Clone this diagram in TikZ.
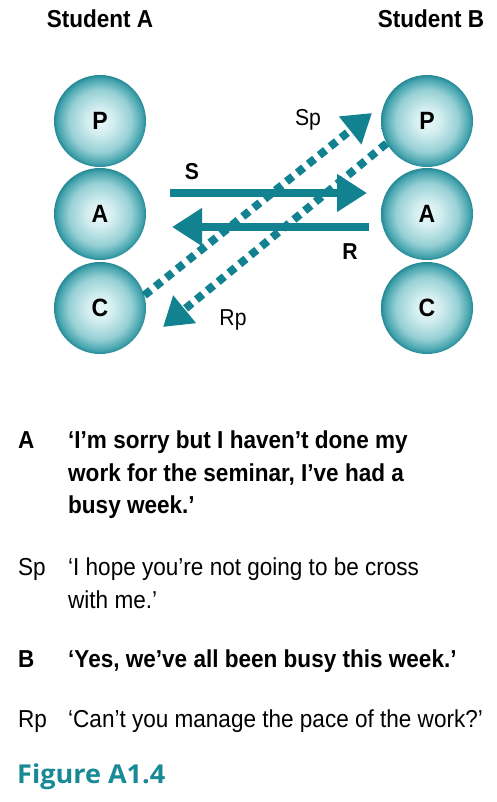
\documentclass[tikz,border=0pt]{standalone}
\usepackage{fontspec}
\setmainfont{Liberation Sans}[FakeStretch=0.92]
\newfontfamily\figfont{Open Sans}[FakeStretch=1.04]
\usetikzlibrary{arrows.meta,calc}
\definecolor{teal1}{RGB}{18,130,144}
\definecolor{figcol}{RGB}{24,138,150}
\definecolor{b0}{RGB}{236,249,249}
\definecolor{b1}{RGB}{212,238,240}
\definecolor{b2}{RGB}{150,208,213}
\definecolor{b3}{RGB}{70,164,174}
\definecolor{b4}{RGB}{36,138,150}
\pgfdeclareradialshading{ballteal}{\pgfpoint{0bp}{0bp}}{color(0bp)=(b0); color(7bp)=(b1); color(17bp)=(b2); color(23bp)=(b3); color(25bp)=(b4); color(50bp)=(b4)}
\begin{document}
\begin{tikzpicture}[x=1pt,y=1pt,
  ball/.style={circle, minimum size=92pt, inner sep=0pt, shading=ballteal, font=\fontsize{25}{28}\selectfont\bfseries},
  head/.style={font=\fontsize{24.5}{30}\selectfont\bfseries},
  solidarr/.style={draw=teal1, line width=8pt, -{Triangle[length=30pt,width=36pt]}},
  dotarr/.style={draw=teal1, line width=8pt, dash pattern=on 8pt off 6pt, -{Triangle[length=28pt,width=34pt,fill=teal1]}},
  lbl/.style={font=\fontsize{23}{26}\selectfont},
  blbl/.style={font=\fontsize{23}{26}\selectfont\bfseries},
  bodyb/.style={anchor=base west, inner sep=0pt, font=\fontsize{24.5}{30}\selectfont\bfseries},
  bodyr/.style={anchor=base west, inner sep=0pt, font=\fontsize{24.5}{30}\selectfont},
  figlbl/.style={anchor=base west, inner sep=0pt, text=figcol, font=\fontsize{26}{30}\figfont\bfseries}
]
\useasboundingbox (0,0) rectangle (496,-802);
\fill[white] (0,0) rectangle (496,-802);

\node[head, anchor=base, inner sep=0pt] (hA) at (100,-28) {Student A};
\node[head, anchor=base, inner sep=0pt] (hB) at (431,-28) {Student B};

\node[ball] (LP) at (100,-121) {P};
\node[ball] (LA) at (100,-214) {A};
\node[ball] (LC) at (100,-308) {C};
\node[ball] (RP) at (427,-121) {P};
\node[ball] (RA) at (427,-214) {A};
\node[ball] (RC) at (427,-308) {C};

\coordinate (Ss) at (170,-193);
\coordinate (Se) at (367,-193);
\coordinate (Rs) at (369,-227);
\coordinate (Re) at (172,-227);
\coordinate (Sptip) at (372,-113);
\coordinate (Rptip) at (163,-327);

\draw[solidarr] (Ss) -- (Se);
\draw[solidarr] (Rs) -- (Re);
\draw[dotarr] (LC.16) -- (Sptip);
\draw[dotarr] (RP.209) -- (Rptip);

\node[blbl, anchor=base] (lS) at (192,-180) {S};
\node[blbl, anchor=base] (lR) at (350,-259) {R};
\node[lbl, anchor=base] (lSp) at (308,-126) {Sp};
\node[lbl, anchor=base] (lRp) at (233,-325) {Rp};

\node[bodyb] (tA) at (18,-448) {A};
\node[bodyb] (tA1) at (68,-448) {‘I’m sorry but I haven’t done my};
\node[bodyb] (tA2) at (68,-481) {work for the seminar, I’ve had a};
\node[bodyb] (tA3) at (68,-513) {busy week.’};

\node[bodyr] (tSp) at (18,-575) {Sp};
\node[bodyr] (tSp1) at (68,-575) {‘I hope you’re not going to be cross};
\node[bodyr] (tSp2) at (68,-608) {with me.’};

\node[bodyb] (tB) at (18,-667) {B};
\node[bodyb] (tB1) at (68,-667) {‘Yes, we’ve all been busy this week.’};

\node[bodyr] (tRp) at (18,-727) {Rp};
\node[bodyr] (tRp1) at (68,-727) {‘Can’t you manage the pace of the work?’};

\node[figlbl] (fig) at (17,-783) {Figure A1.4};
\end{tikzpicture}
\end{document}
